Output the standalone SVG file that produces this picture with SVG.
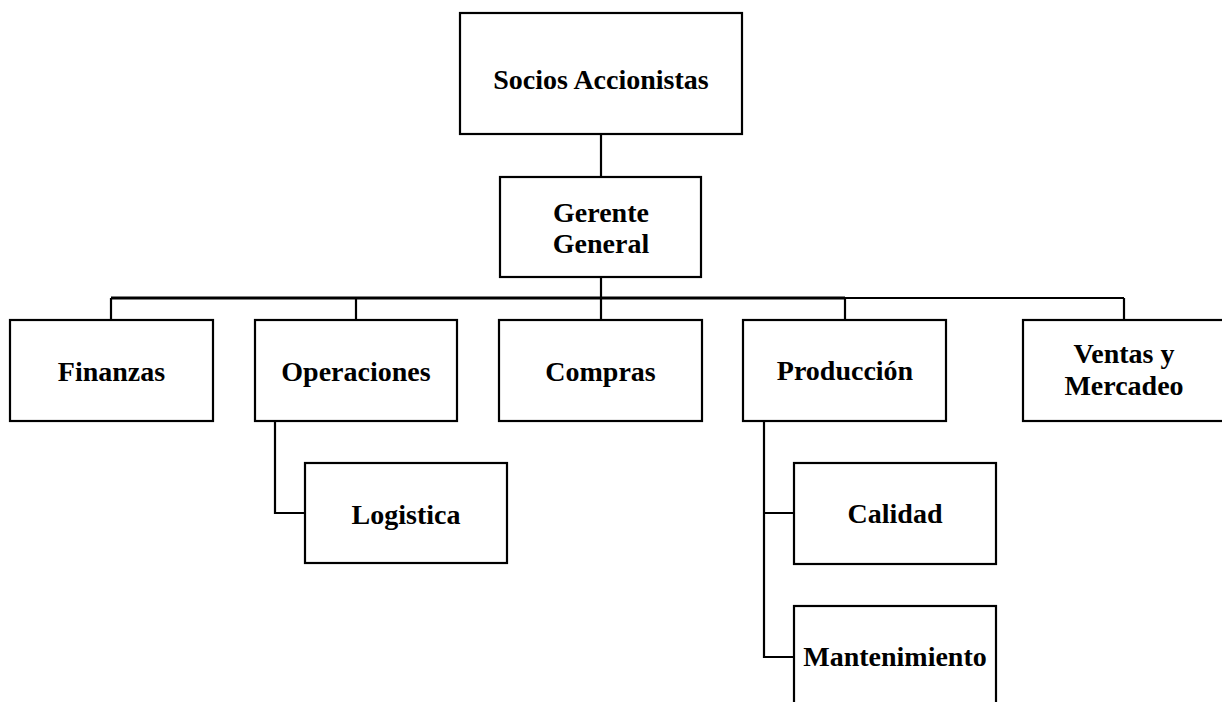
<svg xmlns="http://www.w3.org/2000/svg" width="1222" height="702" viewBox="0 0 1222 702">
<style>
.box{fill:#fff;stroke:#000;stroke-width:2.2}
.lbl{font-family:"Liberation Serif","Times New Roman",serif;font-weight:bold;font-size:28px;fill:#000;text-anchor:middle}
.con{fill:none;stroke:#000;stroke-width:2.2}
</style>
<rect width="1222" height="702" fill="#fff"/>
<g id="connectors">
<path class="con" d="M601 134V177"/>
<path class="con" d="M601 277V298"/>
<path class="con" style="stroke-width:3" d="M111 298H845"/>
<path class="con" d="M845 298H1124"/>
<path class="con" d="M111 298V320M356 298V320M601 298V320M845 298V320M1124 298V320"/>
<path class="con" d="M275 421V513H305"/>
<path class="con" d="M764 421V657H794M764 513H794"/>
</g>
<g id="socios"><rect class="box" x="460" y="13" width="282" height="121"/><text class="lbl" x="601" y="89">Socios Accionistas</text></g>
<g id="gerente"><rect class="box" x="500" y="177" width="201" height="100"/><text class="lbl" x="601" y="222">Gerente</text><text class="lbl" x="601" y="253">General</text></g>
<g id="finanzas"><rect class="box" x="10" y="320" width="203" height="101"/><text class="lbl" x="111.5" y="381">Finanzas</text></g>
<g id="operaciones"><rect class="box" x="255" y="320" width="202" height="101"/><text class="lbl" x="356" y="381">Operaciones</text></g>
<g id="compras"><rect class="box" x="499" y="320" width="203" height="101"/><text class="lbl" x="600.5" y="381">Compras</text></g>
<g id="produccion"><rect class="box" x="743" y="320" width="203" height="101"/><text class="lbl" x="845" y="380">Producción</text></g>
<g id="ventas"><rect class="box" x="1023" y="320" width="202" height="101"/><text class="lbl" x="1124" y="363">Ventas y</text><text class="lbl" x="1124" y="395">Mercadeo</text></g>
<g id="logistica"><rect class="box" x="305" y="463" width="202" height="100"/><text class="lbl" x="406" y="524">Logistica</text></g>
<g id="calidad"><rect class="box" x="794" y="463" width="202" height="101"/><text class="lbl" x="895" y="523">Calidad</text></g>
<g id="mantenimiento"><rect class="box" x="794" y="606" width="202" height="110"/><text class="lbl" x="895" y="666">Mantenimiento</text></g>
</svg>
